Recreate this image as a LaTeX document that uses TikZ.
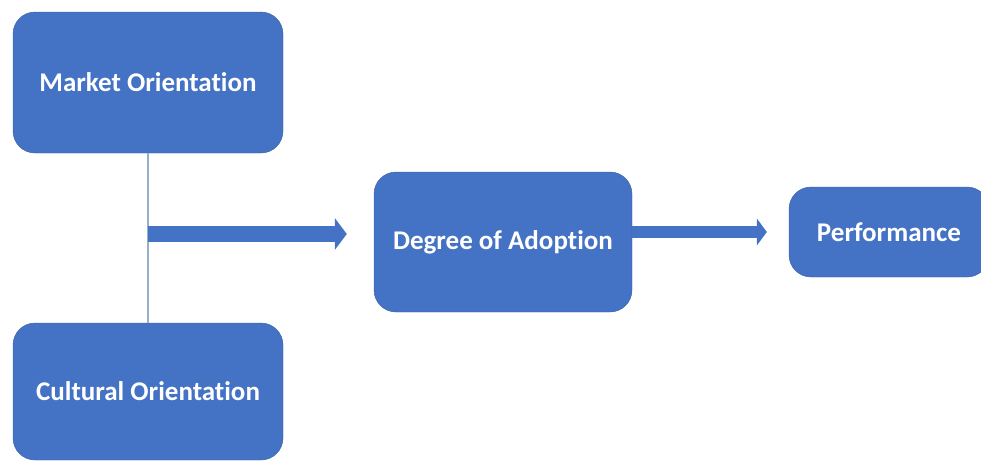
\documentclass[tikz,border=0pt]{standalone}
\usepackage{fontspec}
\setmainfont{Carlito}[Ligatures=NoCommon]
\usetikzlibrary{arrows.meta}
\definecolor{boxblue}{RGB}{68,114,196}
\definecolor{boxedge}{RGB}{55,95,165}
\definecolor{linkgray}{RGB}{150,175,205}
\tikzset{
  factor/.style={draw=boxedge,fill=boxblue,rounded corners=22pt,text=white,
    font=\fontsize{27}{31}\selectfont\bfseries,align=center,inner sep=0pt},
  flow/.style={draw=boxblue,-{Triangle[length=12pt,width=32pt,line width=0pt]}}
}
\begin{document}
\begin{tikzpicture}[x=1pt,y=-1pt]

\useasboundingbox (0,0) rectangle (981,461);
\clip (0,0) rectangle (981,461);

% the four factors
\node[factor,minimum width=270pt,minimum height=141pt] (market) at (148,82.5) {Market Orientation};
\node[factor,minimum width=270pt,minimum height=137pt] (culture) at (148,391.5) {Cultural Orientation};
\node[factor,minimum width=258pt,minimum height=140pt] (adopt) at (503,242) {Degree of Adoption};
\node[factor,minimum width=200pt,minimum height=90pt] (perf) at (889,232) {Performance};

% joining line and arrows
\draw[linkgray,line width=1.2pt] (market.south) -- (culture.north);
\coordinate (join) at (148,234);
\draw[flow,line width=16pt,shorten >=27pt] (join) -- (join -| adopt.west);
\draw[flow,line width=12pt,shorten >=22pt,
  -{Triangle[length=10pt,width=27pt,line width=0pt]}] (adopt.east |- perf.west) -- (perf.west);

\end{tikzpicture}
\end{document}
